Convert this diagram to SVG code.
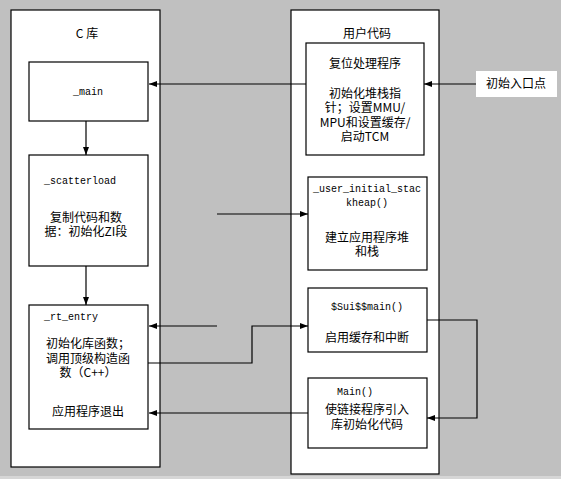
<svg xmlns="http://www.w3.org/2000/svg" width="561" height="479" viewBox="0 0 561 479">
<style>
.panel{fill:#fff;stroke:#000;stroke-width:1.2}
.box{fill:#fff;stroke:#000;stroke-width:1.2}
.cn{font-family:"Noto Sans CJK SC","Liberation Sans",sans-serif;font-size:12px;fill:#000}
.code{font-family:"Liberation Mono",monospace;font-size:10px;fill:#000}
.mid{text-anchor:middle}
.con{fill:none;stroke:#000;stroke-width:1.2}
</style>
<defs>
<marker id="ah" markerWidth="8" markerHeight="6" refX="8" refY="3" orient="auto" markerUnits="userSpaceOnUse">
<path d="M0,0 L8,3 L0,6 Z" fill="#000"/>
</marker>
</defs>
<rect x="0" y="0" width="561" height="479" fill="#c0c0c0"/>
<rect x="0" y="476" width="561" height="3" fill="#d6d6d6"/>

<g id="panel-clib">
<rect class="panel" x="11" y="10" width="149" height="457"/>
<text class="cn mid" x="87" y="38">C 库</text>
</g>
<g id="panel-user">
<rect class="panel" x="291" y="10" width="148" height="464"/>
<text class="cn mid" x="367" y="38">用户代码</text>
</g>

<g id="node-main">
<rect class="box" x="29" y="62" width="119" height="59"/>
<text class="code mid" x="88" y="95">_main</text>
</g>
<g id="node-scatterload">
<rect class="box" x="29" y="155" width="119" height="111"/>
<text class="code" x="44" y="184">_scatterload</text>
<text class="cn mid" x="86" y="222">复制代码和数</text>
<text class="cn mid" x="86" y="236">据：初始化ZI段</text>
</g>
<g id="node-rt-entry">
<rect class="box" x="29" y="305" width="119" height="124"/>
<text class="code" x="44" y="320">_rt_entry</text>
<text class="cn mid" x="88" y="348">初始化库函数；</text>
<text class="cn mid" x="88" y="363">调用顶级构造函</text>
<text class="cn mid" x="88" y="377">数（C++）</text>
<text class="cn mid" x="88" y="416">应用程序退出</text>
</g>

<g id="node-reset">
<rect class="box" x="306" y="43" width="118" height="112"/>
<text class="cn mid" x="365" y="68">复位处理程序</text>
<text class="cn mid" x="365" y="98">初始化堆栈指</text>
<text class="cn mid" x="365" y="112">针；设置MMU/</text>
<text class="cn mid" x="365" y="127">MPU和设置缓存/</text>
<text class="cn mid" x="365" y="141">启动TCM</text>
</g>
<g id="node-entry">
<rect x="476" y="71" width="81" height="26" fill="#fff"/>
<text class="cn mid" x="516" y="88">初始入口点</text>
</g>
<g id="node-stackheap">
<rect class="box" x="308" y="177" width="119" height="93"/>
<text class="code mid" x="367" y="192">_user_initial_stac</text>
<text class="code mid" x="367" y="206">kheap()</text>
<text class="cn mid" x="367" y="242">建立应用程序堆</text>
<text class="cn mid" x="367" y="256">和栈</text>
</g>
<g id="node-sub-main">
<rect class="box" x="308" y="288" width="119" height="64"/>
<text class="code mid" x="367" y="310">$Sui$$main()</text>
<text class="cn mid" x="367" y="342">启用缓存和中断</text>
</g>
<g id="node-Main">
<rect class="box" x="308" y="378" width="119" height="70"/>
<text class="code" x="337" y="395">Main()</text>
<text class="cn mid" x="367" y="414">使链接程序引入</text>
<text class="cn mid" x="367" y="429">库初始化代码</text>
</g>

<g id="connectors">
<line class="con" x1="476" y1="84" x2="424" y2="84" marker-end="url(#ah)"/>
<line class="con" x1="306" y1="84" x2="149" y2="84" marker-end="url(#ah)"/>
<line class="con" x1="86" y1="121" x2="86" y2="155" marker-end="url(#ah)"/>
<line class="con" x1="86" y1="266" x2="86" y2="305" marker-end="url(#ah)"/>
<line class="con" x1="217" y1="214" x2="308" y2="214" marker-end="url(#ah)"/>
<line class="con" x1="217" y1="326" x2="149" y2="326" marker-end="url(#ah)"/>
<polyline class="con" points="148,363 252,363 252,326 308,326" marker-end="url(#ah)"/>
<polyline class="con" points="427,320 477,320 477,418 427,418" marker-end="url(#ah)"/>
<line class="con" x1="308" y1="413" x2="149" y2="413" marker-end="url(#ah)"/>
</g>
</svg>
